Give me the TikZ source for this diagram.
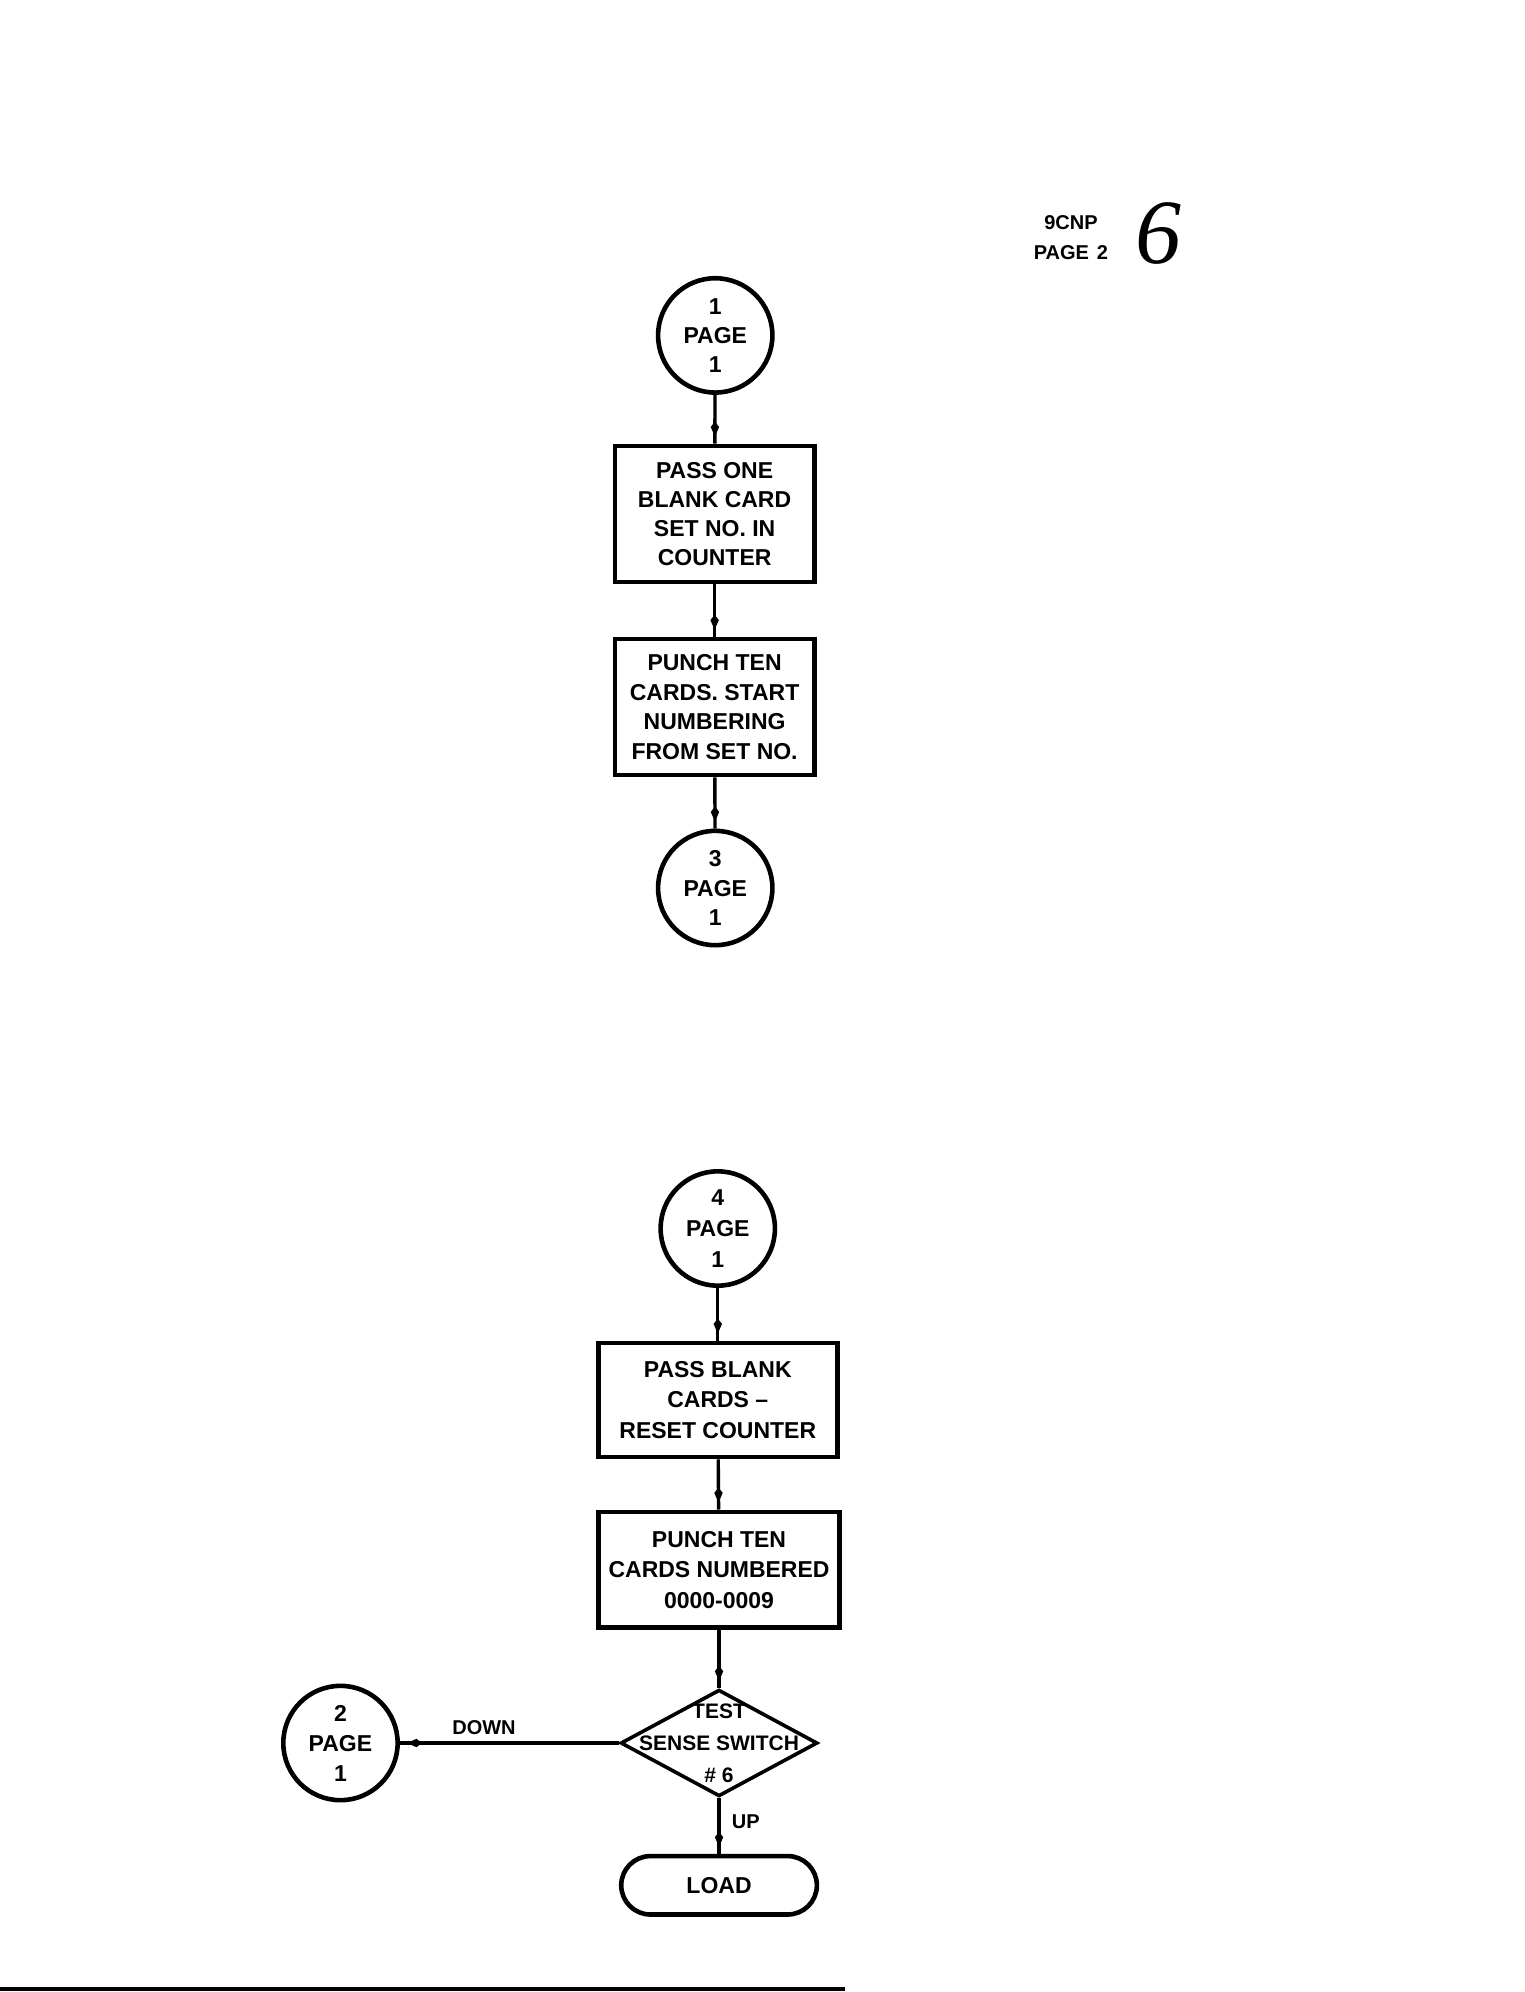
\documentclass[tikz,border=0pt]{standalone}
\usepackage{fontspec}
\setmainfont{Liberation Sans}
\newfontfamily\handfont{Liberation Serif}
\usetikzlibrary{shapes.geometric,arrows.meta,decorations.markings}
\newcommand\upx{0.6354pt}
\begin{document}
\begin{tikzpicture}[x=0.6354pt,y=-0.6354pt,
  every node/.style={font=\bfseries\fontsize{11.5}{14.6}\selectfont, align=center, inner sep=0pt},
  conn/.style={line width=1.7pt, postaction={decorate},
    decoration={markings, mark=at position -3.5pt with {\arrow{Kite[length=7.5pt,width=4.2pt,inset=2.7pt]}}}},
  connector/.style={circle, draw, line width=2.3pt, minimum size=90*\upx},
  procbox/.style={rectangle, draw, line width=2.3pt},
  lbl/.style={font=\bfseries\fontsize{10}{12}\selectfont},
]
\useasboundingbox (0,0) rectangle (1200,1568);

% header
\node[font=\bfseries\fontsize{10}{15}\selectfont] (hdr) at (843,187) {9CNP\\PAGE\hspace{0.4em}2};
\node[font=\handfont\itshape\fontsize{46}{46}\selectfont] (six) at (912,184) {6};

% upper chart
\node[connector] (c1) at (563,264) {1\\PAGE\\1};
\node[procbox, minimum width=157*\upx, minimum height=107*\upx] (b1) at (562.5,404.5)
  {PASS ONE\\BLANK CARD\\SET NO. IN\\COUNTER};
\node[procbox, minimum width=157*\upx, minimum height=107*\upx, font=\bfseries\fontsize{11.5}{14.9}\selectfont] (b2) at (562.5,556.5)
  {PUNCH TEN\\CARDS. START\\NUMBERING\\FROM SET NO.};
\node[connector] (c3) at (563,699) {3\\PAGE\\1};

\draw[conn] (c1) -- (b1);
\draw[conn] (b1) -- (b2);
\draw[conn] (b2) -- (c3);

% lower chart
\node[connector, font=\bfseries\fontsize{11.5}{15.5}\selectfont] (c4) at (565,967) {4\\PAGE\\1};
\node[procbox, minimum width=188*\upx, minimum height=90*\upx, font=\bfseries\fontsize{11.5}{15.25}\selectfont] (b3) at (565,1102)
  {PASS BLANK\\CARDS --\\RESET COUNTER};
\node[procbox, minimum width=190*\upx, minimum height=91*\upx, font=\bfseries\fontsize{11.5}{15.25}\selectfont] (b4) at (566,1235.5)
  {PUNCH TEN\\CARDS NUMBERED\\0000-0009};
\node[draw, diamond, line width=1.8pt, minimum width=155*\upx, minimum height=84*\upx] (d) at (566,1372) {};
\node[font=\bfseries\fontsize{10.5}{15.9}\selectfont] (dt) at (566,1372) {TEST\\SENSE SWITCH\\\# 6};
\node[connector, font=\bfseries\fontsize{11.5}{15}\selectfont] (c2) at (268,1372) {2\\PAGE\\1};
\node[draw, rounded corners=14.6pt, line width=2.3pt, minimum width=154*\upx, minimum height=46*\upx] (load) at (566,1484) {LOAD};

\draw[conn] (c4) -- (b3);
\draw[conn] (b3) -- (b4);
\draw[conn] (b4) -- (d);
\draw[conn] (d) -- (c2);
\draw[conn] (d) -- (load);

\node[lbl] (down) at (381,1360) {DOWN};
\node[lbl] (up) at (587,1434) {UP};

% bottom rule
\draw[line width=1.8pt] (0,1565.5) -- (665,1565.5);
\end{tikzpicture}
\end{document}
